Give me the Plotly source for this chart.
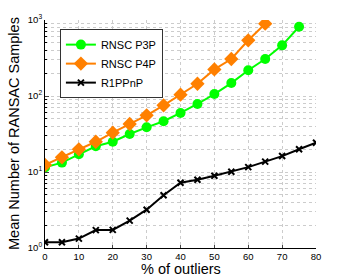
import plotly.graph_objects as go

outliers_p3p = [0, 5, 10, 15, 20, 25, 30, 35, 40, 45, 50, 55, 60, 65, 70, 75]
p3p = [11.5, 13.3, 17.1, 21.8, 25.0, 31.6, 38.7, 46.5, 59.8, 78.5, 106, 148, 218, 307, 464, 816]

outliers_p4p = [0, 5, 10, 15, 20, 25, 30, 35, 40, 45, 50, 55, 60, 65]
p4p = [12.4, 15.6, 19.9, 25.0, 32.9, 42.8, 55.7, 75.5, 104, 145, 224, 307, 541, 894]

outliers_r1 = [0, 5, 10, 15, 20, 25, 30, 35, 40, 45, 50, 55, 60, 65, 70, 75, 80]
r1ppnp = [1.19, 1.19, 1.33, 1.72, 1.73, 2.29, 3.19, 4.94, 7.23, 7.92, 8.94, 10.1, 11.6, 13.7, 16.2, 19.9, 24.3]

x_ticks = [0, 10, 20, 30, 40, 50, 60, 70, 80]
y_ticks = [1, 10, 100, 1000]
y_ticktext = ["10<sup>0</sup>", "10<sup>1</sup>", "10<sup>2</sup>", "10<sup>3</sup>"]
minor_vals = [m * d for d in (1, 10, 100) for m in range(2, 10)]

x_title = "% of outliers"
y_title = "Mean Number of RANSAC Samples"

FONT = "Liberation Sans, Arial, sans-serif"

fig = go.Figure()
fig.add_trace(go.Scatter(
    x=outliers_p3p, y=p3p, name="RNSC P3P", mode="lines+markers",
    line=dict(color="#00ff00", width=2),
    marker=dict(symbol="circle", size=10, color="#00ff00")))
fig.add_trace(go.Scatter(
    x=outliers_p4p, y=p4p, name="RNSC P4P", mode="lines+markers",
    line=dict(color="#ff8000", width=2),
    marker=dict(symbol="diamond", size=11, color="#ff8000")))
fig.add_trace(go.Scatter(
    x=outliers_r1, y=r1ppnp, name="R1PPnP", mode="lines+markers",
    line=dict(color="#000000", width=2),
    marker=dict(symbol="x-thin", size=6, color="#000000",
                line=dict(width=2, color="#000000"))))

grid_col = "#cccccc"
fig.update_layout(
    width=349, height=279,
    margin=dict(l=45, r=33, t=20, b=31),
    paper_bgcolor="white", plot_bgcolor="white",
    font=dict(family=FONT, color="#000000"),
    showlegend=True,
    legend=dict(x=0.055, y=0.96, xanchor="left", yanchor="top",
                bgcolor="white", bordercolor="#333333", borderwidth=1,
                font=dict(size=11, family=FONT),
                itemwidth=30, tracegroupgap=0),
    xaxis=dict(
        range=[0, 80], tickvals=x_ticks, ticks="inside", ticklen=3,
        tickfont=dict(size=9.5), showline=True, linecolor="black", linewidth=1,
        showgrid=True, gridcolor=grid_col, griddash="dot", gridwidth=1,
        zeroline=False, mirror=False, automargin=False),
    yaxis=dict(
        type="log", range=[0, 3], tickvals=y_ticks, ticktext=y_ticktext,
        ticks="inside", ticklen=4, tickfont=dict(size=9.5),
        showline=True, linecolor="black", linewidth=1,
        showgrid=True, gridcolor=grid_col, griddash="dot", gridwidth=1,
        zeroline=False, automargin=False,
        minor=dict(tickvals=minor_vals, ticks="inside", ticklen=2,
                   showgrid=True, gridcolor=grid_col, griddash="dot",
                   gridwidth=1, tickcolor="black")),
    annotations=[
        dict(text=x_title, xref="paper", yref="paper", x=0.5, y=0,
             xanchor="center", yanchor="middle", yshift=-21, showarrow=False,
             font=dict(size=14.5, family=FONT)),
        dict(text=y_title, xref="paper", yref="paper", x=0, y=0.5,
             xanchor="center", yanchor="middle", xshift=-31, textangle=-90,
             showarrow=False, font=dict(size=14.5, family=FONT)),
    ],
)

# remove the browser's default 8px body margin so the figure fills the window
fig.write_html("out.html", config={"displayModeBar": False},
               post_script="document.body.style.margin='0px';")
